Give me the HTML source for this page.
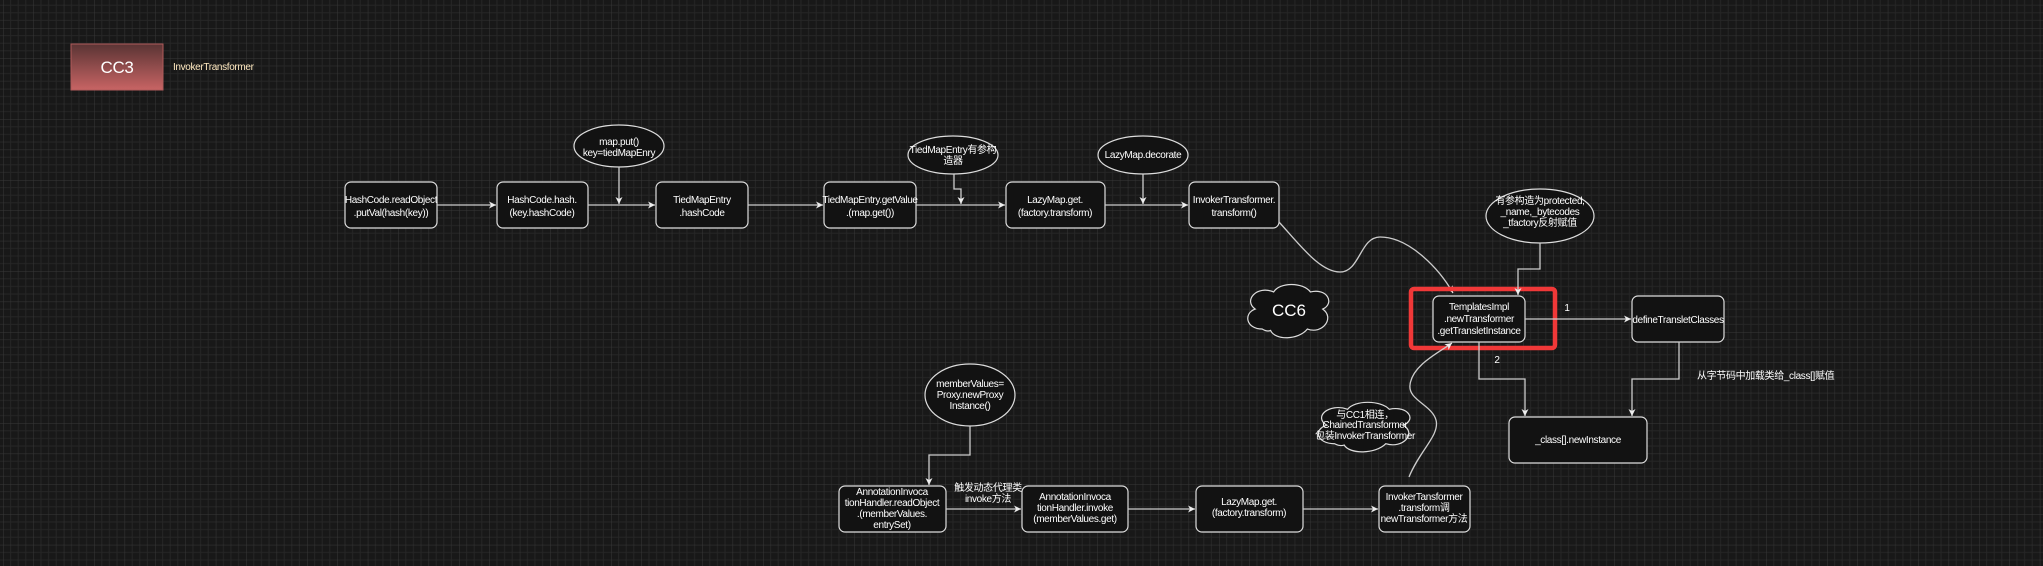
<!DOCTYPE html>
<html><head><meta charset="utf-8"><style>
html,body{margin:0;padding:0;background:#181818;}
svg{display:block;}
text{font-family:"Liberation Sans","Noto Sans CJK SC",sans-serif;fill:#fff;font-size:10px;letter-spacing:-0.35px;text-anchor:middle;}
.b{fill:#121212;stroke:#ddd;stroke-width:1.2;}
.l{fill:none;stroke:#ccc;stroke-width:1.3;}
</style></head><body>
<svg width="2043" height="566" viewBox="0 0 2043 566" xmlns="http://www.w3.org/2000/svg">
<defs>
<pattern id="g" x="3" y="-2.4" width="30.4" height="30.4" patternUnits="userSpaceOnUse">
<path d="M7.6 0V30.4M15.2 0V30.4M22.8 0V30.4M0 7.6H30.4M0 15.2H30.4M0 22.8H30.4" stroke="#262626" stroke-width="1"/>
<path d="M0 0V30.4M0 0H30.4" stroke="#383838" stroke-width="1"/>
</pattern>
<linearGradient id="rg" x1="0" y1="0" x2="0" y2="1"><stop offset="0" stop-color="#5a3434"/><stop offset="1" stop-color="#c86464"/></linearGradient>
<marker id="a" markerWidth="8" markerHeight="8" refX="7" refY="4" orient="auto" markerUnits="userSpaceOnUse"><path d="M0 0.5L7 4L0 7.5L2 4Z" fill="#eee"/></marker>
<symbol id="cl" viewBox="0 0 120 80" preserveAspectRatio="none"><path d="M25 66C4 66 0 44 16 38C0 26 18 4 40 14C48 0 78 0 88 14C110 8 120 30 104 38C120 50 104 74 84 66C72 82 42 82 36 68C32 70 28 68 25 66Z" fill="#121212" stroke="#ddd" stroke-width="1.2" vector-effect="non-scaling-stroke"/></symbol>
</defs>
<rect width="2043" height="566" fill="#181818"/>
<rect width="2043" height="566" fill="url(#g)"/>

<rect x="71" y="44" width="92" height="46" fill="url(#rg)" stroke="#b05a5a"/>
<text x="117" y="73" style="font-size:17px">CC3</text>
<text x="173" y="70" style="text-anchor:start;fill:#ffe9c0">InvokerTransformer</text>

<rect class="b" x="345" y="182" width="92" height="46" rx="6"/>
<text x="391" y="203">HashCode.readObject</text><text x="391" y="216">.putVal(hash(key))</text>
<rect class="b" x="497" y="182" width="91" height="46" rx="6"/>
<text x="542" y="203">HashCode.hash.</text><text x="542" y="216">(key.hashCode)</text>
<rect class="b" x="656" y="182" width="92" height="46" rx="6"/>
<text x="702" y="203">TiedMapEntry</text><text x="702" y="216">.hashCode</text>
<rect class="b" x="824" y="182" width="92" height="46" rx="6"/>
<text x="870" y="203">TiedMapEntry.getValue</text><text x="870" y="216">.(map.get())</text>
<rect class="b" x="1006" y="182" width="99" height="46" rx="6"/>
<text x="1055" y="203">LazyMap.get.</text><text x="1055" y="216">(factory.transform)</text>
<rect class="b" x="1189" y="182" width="90" height="46" rx="6"/>
<text x="1234" y="203">InvokerTransformer.</text><text x="1234" y="216">transform()</text>

<path class="l" d="M437 205H496" marker-end="url(#a)"/>
<path class="l" d="M588 205H655" marker-end="url(#a)"/>
<path class="l" d="M748 205H823" marker-end="url(#a)"/>
<path class="l" d="M916 205H1005" marker-end="url(#a)"/>
<path class="l" d="M1105 205H1188" marker-end="url(#a)"/>

<ellipse class="b" cx="619" cy="146" rx="45" ry="21"/>
<text x="619" y="145">map.put()</text><text x="619" y="156">key=tiedMapEnry</text>
<path class="l" d="M619 167V204" marker-end="url(#a)"/>
<ellipse class="b" cx="953" cy="155" rx="45" ry="19"/>
<text x="953" y="153">TiedMapEntry有参构</text><text x="953" y="164">造器</text>
<path class="l" d="M954 174V189H961V204" marker-end="url(#a)"/>
<ellipse class="b" cx="1143" cy="155" rx="45" ry="19"/>
<text x="1143" y="158">LazyMap.decorate</text>
<path class="l" d="M1143 174V204" marker-end="url(#a)"/>

<use href="#cl" x="1243" y="282" width="92" height="57"/>
<text x="1289" y="316" style="font-size:17px;letter-spacing:0">CC6</text>

<path class="l" d="M1279 222C1300 245 1320 272 1340 272C1360 272 1360 237 1380 237C1410 237 1440 270 1453 293" marker-end="url(#a)"/>

<rect x="1411" y="289" width="144" height="59" fill="none" stroke="#f03838" stroke-width="4.5" rx="3"/>
<rect class="b" x="1433" y="296" width="92" height="46" rx="6"/>
<text x="1479" y="310">TemplatesImpl</text><text x="1479" y="322">.newTransformer</text><text x="1479" y="334">.getTransletInstance</text>

<ellipse class="b" cx="1540" cy="216" rx="54" ry="27"/>
<text x="1540" y="204">有参构造为protected,</text><text x="1540" y="215">_name,_bytecodes</text><text x="1540" y="226">_tfactory反射赋值</text>
<path class="l" d="M1540 243V269H1518V295" marker-end="url(#a)"/>

<rect class="b" x="1632" y="296" width="92" height="46" rx="6"/>
<text x="1678" y="323">defineTransletClasses</text>
<path class="l" d="M1525 319H1631" marker-end="url(#a)"/>
<text x="1567" y="311">1</text>

<rect class="b" x="1509" y="417" width="138" height="46" rx="6"/>
<text x="1578" y="443">_class[].newInstance</text>
<path class="l" d="M1479 342V379H1525V416" marker-end="url(#a)"/>
<text x="1497" y="363">2</text>
<path class="l" d="M1679 342V379H1632V416" marker-end="url(#a)"/>
<text x="1697" y="379" style="text-anchor:start">从字节码中加载类给_class[]赋值</text>

<ellipse class="b" cx="970" cy="395" rx="45" ry="31"/>
<text x="970" y="387">memberValues=</text><text x="970" y="398">Proxy.newProxy</text><text x="970" y="409">Instance()</text>
<path class="l" d="M970 426V455H929V485" marker-end="url(#a)"/>

<rect class="b" x="839" y="486" width="107" height="46" rx="6"/>
<text x="892" y="495">AnnotationInvoca</text><text x="892" y="506">tionHandler.readObject</text><text x="892" y="517">.(memberValues.</text><text x="892" y="528">entrySet)</text>
<text x="988" y="491">触发动态代理类</text><text x="988" y="502">invoke方法</text>
<rect class="b" x="1022" y="486" width="106" height="46" rx="6"/>
<text x="1075" y="500">AnnotationInvoca</text><text x="1075" y="511">tionHandler.invoke</text><text x="1075" y="522">(memberValues.get)</text>
<rect class="b" x="1196" y="486" width="107" height="46" rx="6"/>
<text x="1249" y="505">LazyMap.get.</text><text x="1249" y="516">(factory.transform)</text>
<rect class="b" x="1379" y="486" width="91" height="46" rx="6"/>
<text x="1424" y="500">InvokerTansformer</text><text x="1424" y="511">.transform调</text><text x="1424" y="522">newTransformer方法</text>

<path class="l" d="M946 509H1021" marker-end="url(#a)"/>
<path class="l" d="M1128 509H1195" marker-end="url(#a)"/>
<path class="l" d="M1303 509H1378" marker-end="url(#a)"/>

<use href="#cl" x="1313" y="400" width="104" height="53"/>
<text x="1365" y="418">与CC1相连，</text><text x="1365" y="428">ChainedTransformer</text><text x="1365" y="439">包装InvokerTransformer</text>

<path class="l" d="M1409 477C1420 450 1440 435 1436 420C1432 405 1408 400 1410 385C1412 365 1440 352 1452 343" marker-end="url(#a)"/>
</svg>
</body></html>
